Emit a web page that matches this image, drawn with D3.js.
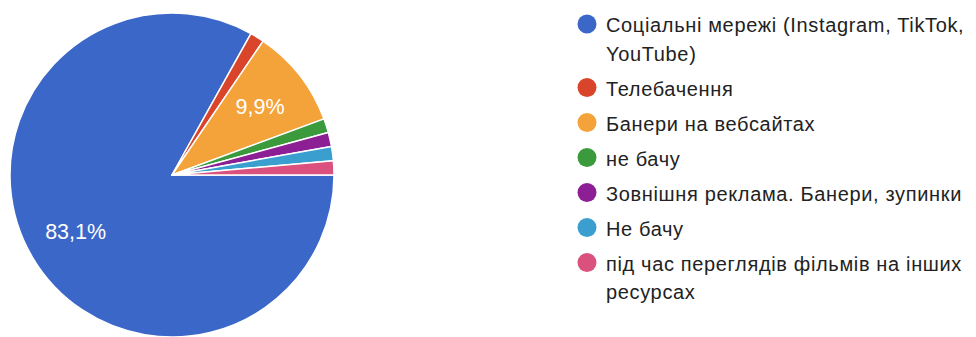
<!DOCTYPE html>
<html>
<head>
<meta charset="utf-8">
<script src="https://cdn.jsdelivr.net/npm/d3@7"></script>
<style>
  html, body { margin: 0; padding: 0; background: #fff; }
  svg { display: block; }
  text { font-family: "Liberation Sans", Arial, Helvetica, sans-serif; }
</style>
</head>
<body>
<svg id="chart" width="976" height="337"></svg>
<script>
// Responses per answer option (71 in total)
const categories = [
  "Соціальні мережі (Instagram, TikTok, YouTube)",
  "Телебачення",
  "Банери на вебсайтах",
  "не бачу",
  "Зовнішня реклама. Банери, зупинки",
  "Не бачу",
  "під час переглядів фільмів на інших ресурсах"
];
// Legend text split into the lines it is printed on
const legendLines = [
  ["Соціальні мережі (Instagram, TikTok,", "YouTube)"],
  ["Телебачення"],
  ["Банери на вебсайтах"],
  ["не бачу"],
  ["Зовнішня реклама. Банери, зупинки"],
  ["Не бачу"],
  ["під час переглядів фільмів на інших", "ресурсах"]
];
const counts = [59, 1, 7, 1, 1, 1, 1];
const colors = ["#3b67c9", "#d8452a", "#f4a23a", "#3a9a3c", "#8c1f93", "#3a9fcf", "#da517d"];

const svg = d3.select("#chart");

// ---- pie ----
const cx = 172, cy = 175, radius = 162;
const pie = d3.pie()
  .sort(null)
  .value(d => d)
  .startAngle(Math.PI / 2)
  .endAngle(Math.PI / 2 + 2 * Math.PI);
const arcs = pie(counts);
const arc = d3.arc().innerRadius(0).outerRadius(radius);
const labelArc = d3.arc().innerRadius(radius * 0.69).outerRadius(radius * 0.69);
const total = d3.sum(counts);

const g = svg.append("g").attr("transform", `translate(${cx},${cy})`);
g.selectAll("path")
  .data(arcs)
  .join("path")
  .attr("d", arc)
  .attr("fill", (d, i) => colors[i])
  .attr("stroke", "#fff")
  .attr("stroke-width", 1.5)
  .attr("stroke-linejoin", "round");

const fmt = v => (Math.round(v * 1000) / 10).toFixed(1).replace(".", ",") + "%";
g.selectAll("text.pct")
  .data(arcs.filter(d => d.value / total > 0.05))
  .join("text")
  .attr("class", "pct")
  .attr("transform", d => `translate(${labelArc.centroid(d)})`)
  .attr("text-anchor", "middle")
  .attr("dy", "0.36em")
  .attr("fill", "#fff")
  .attr("font-size", 21.5)
  .text(d => fmt(d.value / total));

// ---- legend ----
const legendX = 587, textX = 606;
const itemGap = 35, wrapGap = 28.5;
let baseline = 32;
const legend = svg.append("g");
legendLines.forEach((lines, i) => {
  const item = legend.append("g").attr("class", "legend-item");
  item.append("circle")
    .attr("cx", legendX)
    .attr("cy", baseline - 8)
    .attr("r", 9.5)
    .attr("fill", colors[i]);
  const t = item.append("text")
    .attr("x", textX)
    .attr("y", baseline)
    .attr("font-size", 20)
    .attr("letter-spacing", 0.65)
    .attr("fill", "#222");
  t.append("title").text(categories[i]);
  lines.forEach((line, j) => {
    t.append("tspan")
      .attr("x", textX)
      .attr("y", baseline + j * wrapGap)
      .text(line);
  });
  baseline += (lines.length - 1) * wrapGap + itemGap;
});
</script>
</body>
</html>
